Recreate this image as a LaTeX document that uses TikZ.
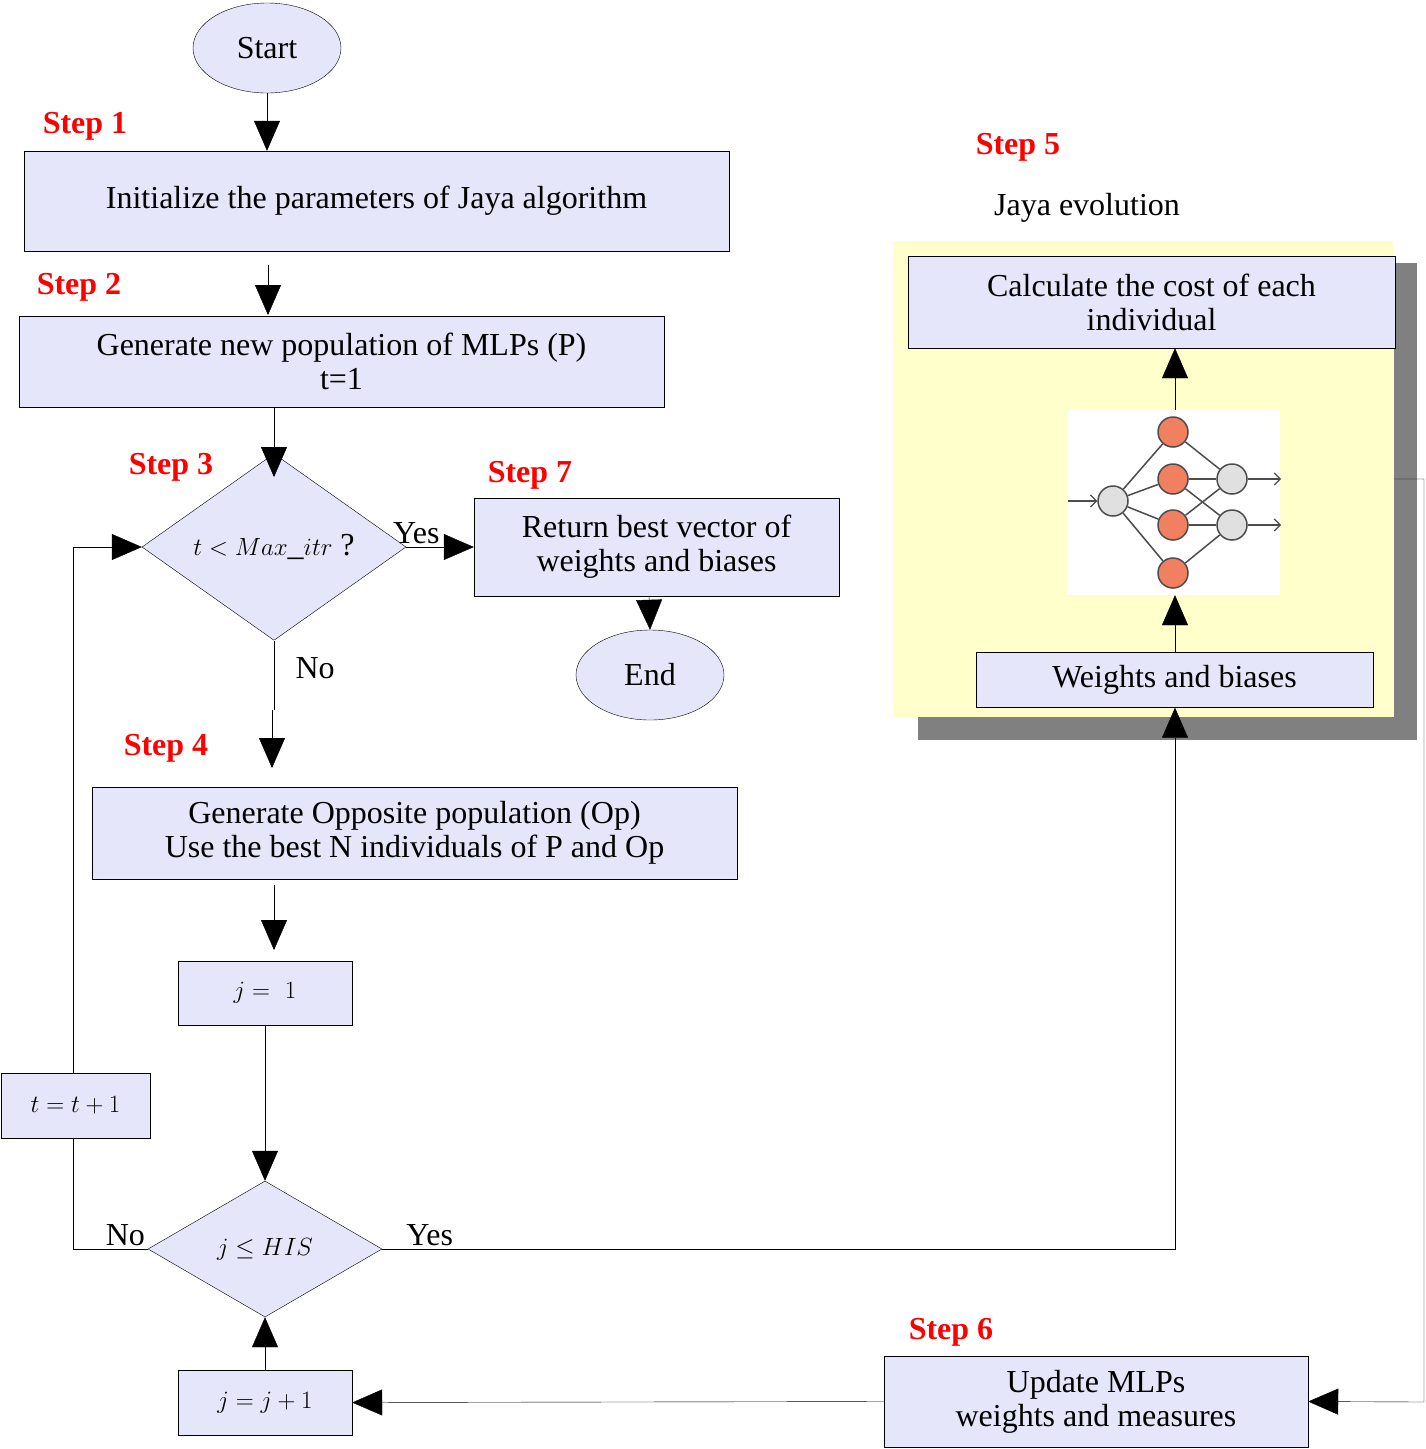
\documentclass[tikz,border=0pt]{standalone}
\usepackage{fontspec}
\setmainfont{Liberation Serif}
\usetikzlibrary{shapes.geometric,arrows.meta,calc}
\definecolor{boxfill}{RGB}{230,230,250}
\definecolor{panel}{RGB}{255,255,204}
\definecolor{hidnode}{RGB}{240,128,96}
\begin{document}
\begin{tikzpicture}[x=1pt, y=-1pt, font=\fontsize{32}{34}\selectfont,
  Box/.style={draw, fill=boxfill, align=center, inner sep=0pt},
  Term/.style={draw, fill=boxfill, ellipse, inner sep=0pt, minimum width=148pt, minimum height=90pt},
  Test/.style={draw, fill=boxfill, diamond, inner sep=0pt},
  StepLabel/.style={text=red, font=\fontsize{32}{34}\selectfont\bfseries},
  Flow/.style={-{Triangle[length=30pt,width=26pt]}},
  Unit/.style={circle, draw=black!70, line width=1.5pt, minimum size=30pt, inner sep=0pt},
  Small/.style={-{Straight Barb[length=6pt]}, draw=black!70, line width=1.2pt}]
\useasboundingbox (0,0) rectangle (1426,1449);

% left column
\node [Term] (start) at (267,48) {Start};
\node [StepLabel] (s1) at (85,126) {Step 1};
\node [Box, minimum width=705pt, minimum height=100pt] (init) at (376.5,201) {Initialize the parameters of Jaya algorithm};
\node [StepLabel] (s2) at (79,287) {Step 2};
\node [Box, minimum width=645pt, minimum height=91pt] (gen) at (341.5,361.5) {Generate new population of MLPs (P)\\t=1};
\node [StepLabel] (s3) at (171,467) {Step 3};
\node [Test, minimum width=264pt, minimum height=140pt] (cond) at (274,547) {$t<Max\_itr$ ?};
\node [StepLabel] (s7) at (530,475) {Step 7};
\node [Box, minimum width=365pt, minimum height=98pt] (ret) at (656.5,547) {Return best vector of\\weights and biases};
\node [Term] (end) at (650,675) {End};
\node [StepLabel] (s4) at (166,748) {Step 4};
\node [Box, minimum width=645pt, minimum height=92pt] (opp) at (414.5,833) {Generate Opposite population (Op)\\Use the best N individuals of P and Op};
\node [Box, minimum width=174pt, minimum height=64pt] (jone) at (265,993) {$j=\ 1$};
\node [Test, minimum width=234pt, minimum height=136pt] (his) at (265,1249) {$j\le HIS$};
\node [Box, minimum width=149pt, minimum height=65pt] (tinc) at (75.5,1105.5) {$t=t+1$};
\node [Box, minimum width=174pt, minimum height=65pt] (jinc) at (265,1402.5) {$j=j+1$};

% right column
\fill [black!50] (918,263) rectangle (1417,740);
\fill [panel] (893,241) rectangle (1394,717);
\node [StepLabel] (s5) at (1018,147) {Step 5};
\node (jaya) at (1087,208) {Jaya evolution};
\node [Box, minimum width=487pt, minimum height=92pt] (cost) at (1151.5,302) {Calculate the cost of each\\individual};
\node [Box, minimum width=397pt, minimum height=55pt] (wb) at (1174.5,680) {Weights and biases};
\node [fill=white, minimum width=213pt, minimum height=185pt] (mlp) at (1173.5,502.5) {};
\node [StepLabel] (s6) at (951,1332) {Step 6};
\node [Box, minimum width=424pt, minimum height=91pt] (upd) at (1096,1401.5) {Update MLPs\\weights and measures};

% network picture
\node [Unit, fill=black!12] (in) at (1113,501) {};
\foreach \y/\n in {432/h1, 479/h2, 525/h3, 573/h4} {
  \node [Unit, fill=hidnode] (\n) at (1173,\y) {};
  \draw [black!70, line width=1.5pt] (in) -- (\n);
}
\node [Unit, fill=black!12] (o1) at (1232,479) {};
\node [Unit, fill=black!12] (o2) at (1232,525) {};
\foreach \a/\b in {h1/o1, h2/o1, h3/o1, h2/o2, h3/o2, h4/o2} {
  \draw [black!70, line width=1.5pt] (\a) -- (\b);
}
\draw [Small] (1068,501) -- (in);
\draw [Small] (o1) -- (1281,479);
\draw [Small] (o2) -- (1281,525);

% connections
\draw [Flow] (start) -- (start|-init.north);
\draw [Flow] (268,265) -- (268,315);
\draw [Flow] (274,407) -- (274,477);
\draw [Flow] (cond.east) -- node [above, pos=0.15] {Yes} (ret.west);
\draw [Flow] (649,596) -- (end.north);
\draw (cond.south) -- node [right, pos=0.4, xshift=18pt] {No} (274,710);
\draw [Flow] (272,710) -- (272,768);
\draw [Flow] (274,885) -- (274,950);
\draw [Flow] (jone.south) -- (his.north);
\draw (his.west) -- node [above, pos=0.3] {No} (73,1249) -- (tinc.south-|73,0);
\draw [Flow] (tinc.north-|73,0) -- (73,547) -- (cond.west);
\draw [Flow] (his.east) -- node [above, pos=0.06] {Yes} (1175,1249) -- (wb.south-|1175,0);
\draw [Flow] (wb.north-|1175,0) -- (mlp.south-|1175,0);
\draw [Flow] (mlp.north-|1175,0) -- (cost.south-|1175,0);
\draw [Flow] (1394,479) -- (1424,479) -- (1424,1402) -- (upd.east);
\draw [Flow] (upd.west) -- (jinc.east);
\draw [Flow] (jinc.north) -- (his.south);
\end{tikzpicture}
\end{document}
